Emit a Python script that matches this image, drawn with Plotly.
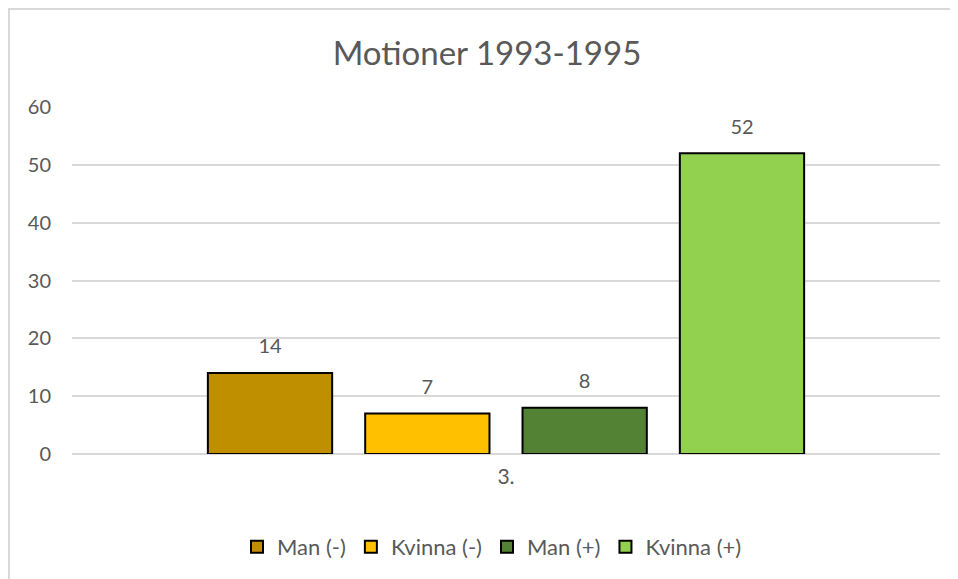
import plotly.graph_objects as go

categories = ["3."]
series_names = ["Man (-)", "Kvinna (-)", "Man (+)", "Kvinna (+)"]
series_values = [[14], [7], [8], [52]]
colors = ["#BF8F00", "#FFC000", "#548235", "#92D050"]
y_ticks = [0, 10, 20, 30, 40, 50, 60]

FONT = "Lato"
TXT = "#595959"
W, H = 958, 579
L, R, T, B = 64, 26, 99, 133
PW, PH = W - L - R, H - T - B

fig = go.Figure()
for i, (name, vals, col) in enumerate(zip(series_names, series_values, colors)):
    fig.add_trace(go.Bar(
        x=categories, y=vals, name=name, offsetgroup=str(i),
        marker=dict(color=col, line=dict(color="black", width=2)),
    ))
for i, (name, vals) in enumerate(zip(series_names, series_values)):
    fig.add_trace(go.Scatter(
        x=categories, y=vals, name=name, offsetgroup=str(i),
        mode="markers+text", text=[str(v) for v in vals],
        textposition="top center",
        textfont=dict(family=FONT, size=20, color=TXT),
        marker=dict(size=22, color="rgba(0,0,0,0)"),
        showlegend=False, hoverinfo="skip", cliponaxis=False,
    ))

fig.update_layout(
    width=W, height=H,
    paper_bgcolor="white", plot_bgcolor="white",
    margin=dict(l=L, r=R, t=T, b=B),
    barmode="group", bargap=0.275, bargroupgap=0.21,
    scattermode="group", scattergap=0.275,
    title=dict(text="Motioner 1993-1995", x=0.5, xanchor="center",
               y=1 - 45 / H, yanchor="middle",
               font=dict(family=FONT, size=33, color=TXT)),
    showlegend=True,
    legend=dict(orientation="h", x=0.5 - 14 / PW, xanchor="center",
                y=-(539 - (H - B)) / PH, yanchor="middle",
                font=dict(family=FONT, size=22, color=TXT),
                itemwidth=30, traceorder="normal"),
    xaxis=dict(showgrid=False, showline=False, ticks="", ticklabelstandoff=8,
               tickfont=dict(family=FONT, size=21, color=TXT)),
    yaxis=dict(range=[0, 60], tickvals=y_ticks, showgrid=True,
               gridcolor="#D9D9D9", gridwidth=1.5, zeroline=True,
               zerolinecolor="#D9D9D9", zerolinewidth=1.5, showline=False,
               ticks="", ticklabelstandoff=20,
               tickfont=dict(family=FONT, size=20, color=TXT)),
    shapes=[dict(type="rect", xref="paper", yref="paper",
                 x0=(1 - L) / PW, x1=1 + 60 / PW,
                 y0=-(B + 60) / PH, y1=1 + (T - 1) / PH,
                 line=dict(color="#D9D9D9", width=2), layer="below")],
)

fig.write_html("out.html")
